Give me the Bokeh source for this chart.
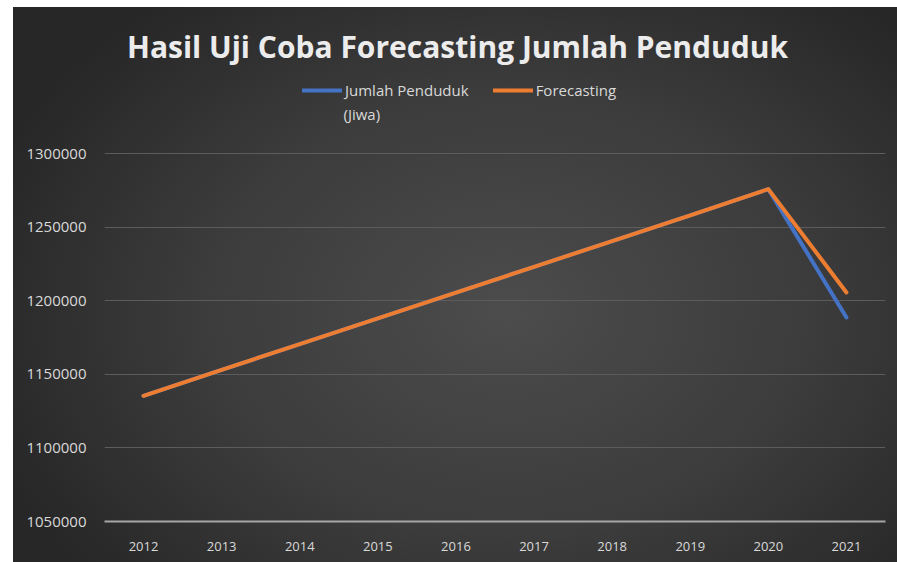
from bokeh.plotting import figure
from bokeh.models import (FactorRange, FixedTicker, BasicTickFormatter, Legend, LegendItem,
                          Spacer, Label, Range1d)
from bokeh.layouts import column, row
from bokeh.embed import file_html
from bokeh.resources import INLINE

years = ["2012", "2013", "2014", "2015", "2016", "2017", "2018", "2019", "2020", "2021"]
penduduk = [1135400, 1153000, 1170500, 1188000, 1205500, 1223000, 1240500, 1258000, 1275800, 1188600]
forecasting = [1135400, 1153000, 1170500, 1188000, 1205500, 1223000, 1240500, 1258000, 1275800, 1205600]
y_ticks = [1050000, 1100000, 1150000, 1200000, 1250000, 1300000]

FONT = "Open Sans"
TXT = "#d9d9d9"

W, H = 884, 555
BL, BR, BB = 91, 12, 41
FH = H - BB                 # frame reaches the top so the title/legend are not clipped
AXIS_PX = 368               # pixel height of the 1050000..1300000 span
y_lo, y_hi = y_ticks[0], y_ticks[-1]
y_top = y_lo + FH * (y_hi - y_lo) / AXIS_PX

p = figure(width=W, height=H, x_range=FactorRange(*years), y_range=Range1d(y_lo, y_top),
           output_backend="svg", toolbar_location=None,
           min_border_left=BL, min_border_right=BR, min_border_top=0, min_border_bottom=BB)
p.styles = {"background": "radial-gradient(ellipse 62% 72% at 56% 55%, #4c4c4c 0%, #3c3c3c 55%, #272727 100%)"}
p.background_fill_color = None
p.border_fill_color = None
p.outline_line_color = None

# title (screen units relative to the frame's bottom-left)
p.add_layout(Label(x=444 - BL, y=FH - 39, x_units="screen", y_units="screen",
                   text="Hasil Uji Coba Forecasting Jumlah Penduduk",
                   text_font=FONT, text_font_size="30px", text_font_style="bold",
                   text_color="#ececec", text_align="center", text_baseline="middle"))

r1 = p.line(years, penduduk, line_color="#4472C4", line_width=4, line_cap="round", line_join="round")
r2 = p.line(years, forecasting, line_color="#ED7D31", line_width=4, line_cap="round", line_join="round")

leg_cy = FH - 84  # legend centre line, from frame bottom
legend = Legend(items=[LegendItem(label="Jumlah Penduduk", renderers=[r1]),
                       LegendItem(label="Forecasting", renderers=[r2])],
                orientation="horizontal", location=(289 - BL, leg_cy - 9),
                background_fill_alpha=0, border_line_color=None,
                label_text_color=TXT, label_text_font=FONT, label_text_font_size="15px",
                glyph_width=40, glyph_height=18, label_height=18, label_standoff=3,
                spacing=24, padding=0, margin=0)
p.add_layout(legend, "center")
p.add_layout(Label(x=330 - BL, y=leg_cy - 22, x_units="screen", y_units="screen",
                   text="(Jiwa)", text_font=FONT, text_font_size="15px",
                   text_color=TXT, text_align="left", text_baseline="middle"))

p.yaxis.ticker = FixedTicker(ticks=y_ticks)
p.yaxis.formatter = BasicTickFormatter(use_scientific=False)
for ax in (p.xaxis, p.yaxis):
    ax.major_label_text_color = TXT
    ax.major_label_text_font = FONT
    ax.major_tick_line_color = None
    ax.minor_tick_line_color = None
p.yaxis.major_label_text_font_size = "15px"
p.xaxis.major_label_text_font_size = "13px"
p.yaxis.axis_line_color = None
p.yaxis.major_label_standoff = 12
p.xaxis.axis_line_color = "#a6a6a6"
p.xaxis.axis_line_width = 2
p.xaxis.major_label_standoff = 14

p.xgrid.grid_line_color = None
p.ygrid.grid_line_color = "#5c5c5c"
p.ygrid.grid_line_width = 1

layout = column(Spacer(height=7), row(Spacer(width=13), p))
open("out.html", "w").write(file_html(layout, INLINE))
